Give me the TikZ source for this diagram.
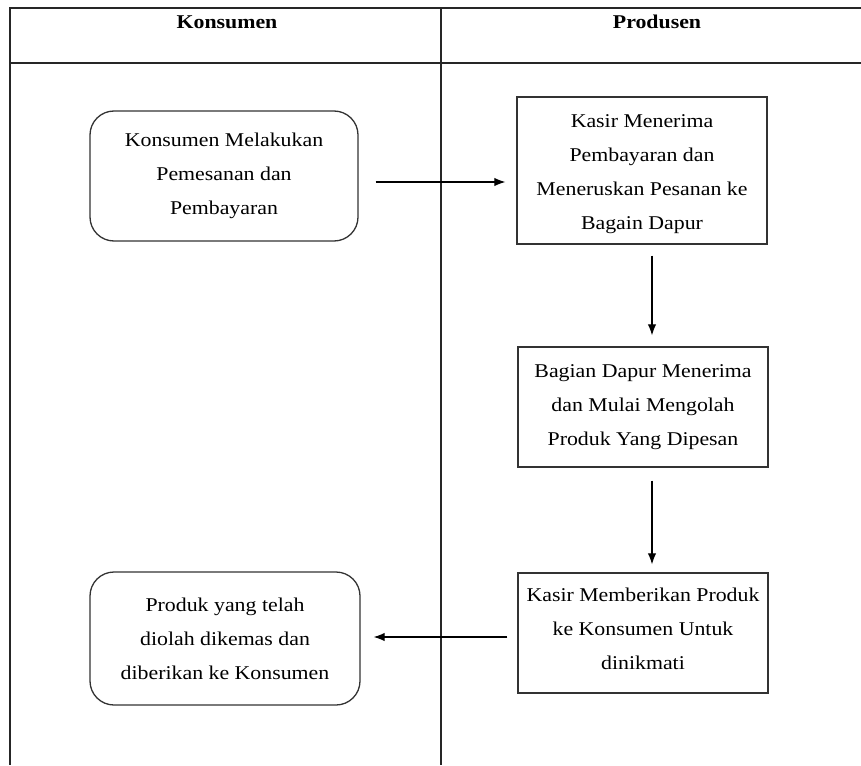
\documentclass[tikz,border=0pt]{standalone}
\usepackage{fontspec}
\setmainfont{Liberation Serif}[FakeStretch=1.12]
\usetikzlibrary{arrows.meta}
\begin{document}
\begin{tikzpicture}[x=1pt,y=-1pt,
  lane/.style={line width=1.6pt, black!85},
  proc/.style={draw, line width=1.3pt, black!80, inner sep=0pt},
  rproc/.style={proc, rounded corners=24pt},
  txt/.style={align=center, text=black, inner sep=0pt,
     font=\fontsize{19.5}{34}\selectfont},
  hdr/.style={font=\fontsize{19.5}{24}\selectfont\bfseries},
  arr/.style={line width=1.2pt, -{Latex[length=11pt,width=8.5pt]}}]
\useasboundingbox (0,0) rectangle (861,765);
% swimlane frame
\coordinate (tl) at (10,8);
\coordinate (tr) at (861,8);
\coordinate (hl) at (10,63);
\coordinate (hr) at (861,63);
\coordinate (bl) at (10,765);
\coordinate (mt) at (441,8);
\coordinate (mb) at (441,765);
\draw[lane] (tr) -- (tl) -- (bl);
\draw[lane] (hl) -- (hr);
\draw[lane] (mt) -- (mb);
\node[hdr] (h1) at (227,22) {Konsumen};
\node[hdr] (h2) at (657,22) {Produsen};
% process boxes
\node[rproc, minimum width=268pt, minimum height=130pt] (b1) at (224,176) {};
\node[txt] (t1) at ([yshift=0pt]b1.center)
  {Konsumen Melakukan\\Pemesanan dan\\Pembayaran};
\node[proc, minimum width=250pt, minimum height=147pt] (b2) at (642,170.5) {};
\node[txt] (t2) at ([yshift=-4pt]b2.center)
  {Kasir Menerima\\Pembayaran dan\\Meneruskan Pesanan ke\\Bagain Dapur};
\node[proc, minimum width=250pt, minimum height=120pt] (b3) at (643,407) {};
\node[txt] (t3) at ([yshift=0pt]b3.center)
  {Bagian Dapur Menerima\\dan Mulai Mengolah\\Produk Yang Dipesan};
\node[proc, minimum width=250pt, minimum height=120pt] (b4) at (643,633) {};
\node[txt] (t4) at ([yshift=4pt]b4.center)
  {Kasir Memberikan Produk\\ke Konsumen Untuk\\dinikmati};
\node[rproc, minimum width=270pt, minimum height=133pt] (b5) at (225,638.5) {};
\node[txt] (t5) at ([yshift=0pt]b5.center)
  {Produk yang telah\\diolah dikemas dan\\diberikan ke Konsumen};
% connectors
\draw[arr, shorten <=17pt, shorten >=11pt] ([yshift=-6pt]b1.east) -- ([yshift=-6pt]b1.east -| b2.west);
\draw[arr, shorten <=11pt, shorten >=11pt] ([xshift=10pt]b2.south) -- ([xshift=10pt]b2.south |- b3.north);
\draw[arr, shorten <=13pt, shorten >=8pt] ([xshift=9pt]b3.south) -- ([xshift=9pt]b3.south |- b4.north);
\draw[arr, shorten <=10pt, shorten >=13pt] ([yshift=-4pt]b4.west) -- ([yshift=-4pt]b4.west -| b5.east);
\end{tikzpicture}
\end{document}
